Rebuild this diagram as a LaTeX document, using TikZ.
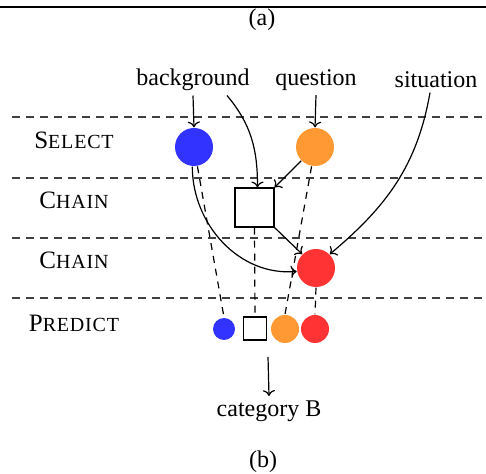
\documentclass[tikz,border=0pt]{standalone}
\usepackage{fontspec}
\setmainfont{Liberation Serif}
\usepackage{tikz}
\usetikzlibrary{positioning, arrows.meta}

% fake small caps for the row labels
\newcommand{\rowsc}[2]{\addfontfeature{LetterSpace=4}\fontsize{12.5}{14}\selectfont #1{\fontsize{10}{12}\selectfont #2}}

\begin{document}
\begin{tikzpicture}[
    x=0.5pt, y=-0.5pt,
    line width=0.6pt,
    every node/.style={font=\fontsize{12}{14}\selectfont},
    word/.style={inner sep=2pt},
    rowlabel/.style={inner sep=0pt},
    sep/.style={dashed, dash pattern=on 4pt off 3pt, black!75},
    ball/.style={circle, inner sep=0pt, minimum size=19pt},
    smallball/.style={circle, inner sep=0pt, minimum size=14pt},
    box/.style={rectangle, draw, inner sep=0pt, minimum size=19.5pt},
    smallbox/.style={rectangle, draw, inner sep=0pt, minimum size=11.5pt},
    arrow/.style={->},
    link/.style={dashed, dash pattern=on 3.5pt off 3pt}
]
\useasboundingbox (0,0) rectangle (486,474);
\definecolor{cblue}{RGB}{51,51,255}
\definecolor{corange}{RGB}{255,153,51}
\definecolor{cred}{RGB}{255,51,51}

% Top rule
\draw (0,7) -- (486,7);
\node[word] (capa) at (262,20) {(a)};

% Inputs
\node[word] (bg) at (193,80) {background};
\node[word] (qu) at (316,80) {question};
\node[word] (sit) at (436,80) {situation};

% Layers
\foreach \yy in {117,178,238,298}
    \draw[sep] (12,\yy) -- (486,\yy);
\node[rowlabel] (sel) at (74,140) {\rowsc{S}{ELECT}};
\node[rowlabel] (ch1) at (74,200) {\rowsc{C}{HAIN}};
\node[rowlabel] (ch2) at (74,260) {\rowsc{C}{HAIN}};
\node[rowlabel] (prd) at (74,323) {\rowsc{P}{REDICT}};

% Steps
\node[ball, fill=cblue] (blue) at (194,147) {};
\node[ball, fill=corange] (orange) at (315,147) {};
\node[box] (sq) at (254.5,207.5) {};
\node[ball, fill=cred] (red) at (316,268) {};

% Prediction row
\node[circle, inner sep=0pt, minimum size=11pt, fill=cblue] (pblue) at (224,329) {};
\node[smallbox] (psq) at (255,328.5) {};
\node[smallball, fill=corange] (porange) at (285,329) {};
\node[smallball, fill=cred] (pred) at (315,329) {};

% Output
\coordinate (rowbot) at (268,357);
\node[word] (cat) at (269,411) {category B};
\node[word] (capb) at (263,462) {(b)};

% Arrows
\draw[arrow] (bg.south) -- (blue.north);
\draw[arrow] ([xshift=17pt]bg.south) to[out=-50, in=90] ([xshift=1.5pt]sq.north);
\draw[arrow] (qu.south) -- (orange.north);
\draw[arrow] (orange.225) -- (sq.north east);
\draw[arrow] ([xshift=-3pt]sit.south) to[out=-100, in=40] (red.45);
\draw[arrow] (sq.south east) -- (red.135);
\draw[arrow] (blue.-95) to[out=-90, in=185] (red.190);
\draw[arrow] (rowbot) -- (cat.north);

% Links to prediction
\draw[link] (blue.-80) -- (pblue.north);
\draw[link] (sq.south) -- (psq.north);
\draw[link] (orange.-100) -- (porange.north);
\draw[link] (red.south) -- (pred.north);
\end{tikzpicture}
\end{document}
